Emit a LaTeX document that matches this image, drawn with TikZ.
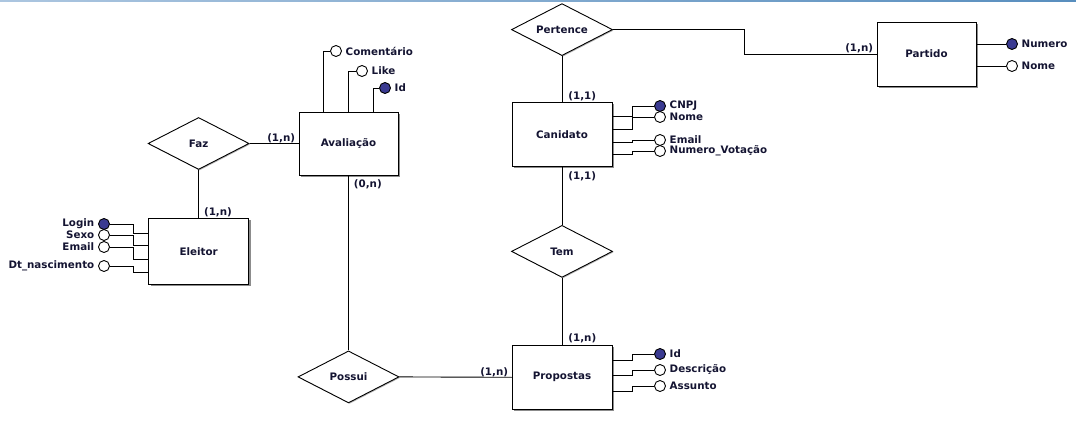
\documentclass[tikz,border=0pt]{standalone}
\usepackage{fontspec}
\setmainfont{DejaVu Sans}
\usetikzlibrary{shapes.geometric,positioning,calc,shadows}
\definecolor{txtcol}{RGB}{20,20,50}
\definecolor{keycol}{RGB}{58,58,145}
\definecolor{barleft}{RGB}{172,198,224}
\definecolor{barright}{RGB}{88,142,190}

\begin{document}
\begin{tikzpicture}[
      x=1pt,y=-1pt,line width=0.9pt,
      font=\fontsize{10.3}{12}\selectfont\bfseries,
      every node/.style = {text=txtcol},
      entity/.style = {draw,rectangle,fill=white,minimum width=100pt,minimum height=64pt,
        drop shadow={shadow xshift=2pt,shadow yshift=-2pt,fill=black!45,opacity=1}},
      relation/.style = {draw,diamond,aspect=2,fill=white,minimum width=101pt,minimum height=52pt,inner sep=0,
        drop shadow={shadow xshift=1pt,shadow yshift=-1pt,fill=black!30,opacity=1}},
      attr/.style = {draw,circle,fill=white,minimum size=11pt,inner sep=0,label distance=1pt},
      keyattr/.style = {attr,fill=keycol},
      card/.style = {inner sep=1pt}
      ]
      \useasboundingbox (0,0) rectangle (1076,422);
      \shade[left color=barleft,right color=barright] (0,0) rectangle (1076,2);

      % entidades e relacionamentos
      \node (cand)[entity] at (562,134.5) {Canidato};
      \node (pertence)[relation,above = 46pt of cand] {Pertence};
      \node (tem)[relation,below = 58pt of cand] {Tem};
      \node (propostas)[entity,below = 67pt of tem] {Propostas};
      \node (partido)[entity,minimum width=99pt] at (926.5,54) {Partido};
      \node (aval)[entity,minimum width=99pt,minimum height=63pt] at (348.5,143.5) {Avaliação};
      \node (faz)[relation,left = 49pt of aval] {Faz};
      \node (eleitor)[entity,minimum height=66pt,below = 48pt of faz] {Eleitor};
      \node (possui)[relation,below = 175pt of aval] {Possui};

      % atributos
      \node (coment)[attr,label=right:Comentário] at (336,51) {};
      \node (like)[attr,label=right:Like] at (362,71) {};
      \node (avalid)[keyattr,label=right:Id] at (385,88) {};
      \node (cnpj)[keyattr,label=right:CNPJ] at (660,106) {};
      \node (cnome)[attr,label=right:Nome] at (660,117) {};
      \node (cemail)[attr,label=right:Email] at (660,140) {};
      \node (cnum)[attr,label=right:Numero\_Votação] at (660,151) {};
      \node (propid)[keyattr,label=right:Id] at (660,354) {};
      \node (desc)[attr,label=right:Descrição] at (660,370) {};
      \node (assunto)[attr,label=right:Assunto] at (660,386) {};
      \node (numero)[keyattr,label=right:Numero] at (1012,44) {};
      \node (pnome)[attr,label=right:Nome] at (1012,66) {};
      \node (login)[keyattr,label=left:Login] at (104,224) {};
      \node (sexo)[attr,label=left:Sexo] at (104,235) {};
      \node (eemail)[attr,label=left:Email] at (104,247) {};
      \node (nasc)[attr,label=left:Dt\_nascimento] at (104,266) {};

      % ligacoes
      \draw (faz.east) -- (aval.west);
      \draw (faz.south) -- (eleitor.north);
      \draw (aval.south) -- (possui.north);
      \draw (possui.east) -- (propostas.west);
      \draw (pertence.south) -- (cand.north);
      \draw (cand.south) -- (tem.north);
      \draw (tem.south) -- (propostas.north);
      \draw (pertence.east) -| ($(pertence.east)!.5!(partido.west)$) |- (partido.west);

      \draw ([xshift=25pt]aval.north west) |- (coment.west);
      \draw ([xshift=50pt]aval.north west) |- (like.west);
      \draw ([xshift=75pt]aval.north west) |- (avalid.west);
      \draw ([yshift=-14pt]cand.north east) -- ++(20,0) |- (cnpj.west);
      \draw ([yshift=-27pt]cand.north east) -- ++(20,0) |- (cnome.west);
      \draw ([yshift=-40pt]cand.north east) -- ++(20,0) |- (cemail.west);
      \draw ([yshift=-52pt]cand.north east) -- ++(20,0) |- (cnum.west);
      \draw ([yshift=-16pt]propostas.north east) -- ++(20,0) |- (propid.west);
      \draw ([yshift=-31pt]propostas.north east) -- ++(20,0) |- (desc.west);
      \draw ([yshift=-47pt]propostas.north east) -- ++(20,0) |- (assunto.west);
      \draw (partido.east |- numero) -- (numero.west);
      \draw (partido.east |- pnome) -- (pnome.west);
      \draw ([yshift=-15pt]eleitor.north west) -- ++(-15,0) |- (login.east);
      \draw ([yshift=-27pt]eleitor.north west) -- ++(-15,0) |- (sexo.east);
      \draw ([yshift=-41pt]eleitor.north west) -- ++(-15,0) |- (eemail.east);
      \draw ([yshift=-54pt]eleitor.north west) -- ++(-15,0) |- (nasc.east);

      % cardinalidades
      \node[card,anchor=base east] at ([xshift=-2pt,yshift=2pt]aval.west) {(1,n)};
      \node[card,anchor=base west] at ([xshift=4pt,yshift=2pt]eleitor.north) {(1,n)};
      \node[card,anchor=north west] at ([xshift=4pt,yshift=-3pt]aval.south) {(0,n)};
      \node[card,anchor=base east] at ([xshift=-2pt,yshift=2pt]propostas.west) {(1,n)};
      \node[card,anchor=base west] at ([xshift=5pt,yshift=3pt]propostas.north) {(1,n)};
      \node[card,anchor=north west] at ([xshift=5pt,yshift=-3pt]cand.south) {(1,1)};
      \node[card,anchor=base west] at ([xshift=5pt,yshift=3pt]cand.north) {(1,1)};
      \node[card,anchor=base east] at ([xshift=-2pt,yshift=2pt]partido.west) {(1,n)};
\end{tikzpicture}
\end{document}
